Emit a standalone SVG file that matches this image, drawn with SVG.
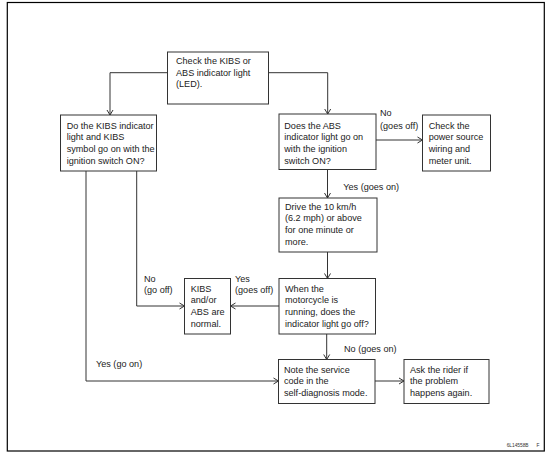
<svg xmlns="http://www.w3.org/2000/svg" width="555" height="456" viewBox="0 0 555 456">
<style>
.box{fill:#fff;stroke:#333;stroke-width:1}
.t{font-family:"Liberation Sans",Arial,sans-serif;font-size:9.1px;fill:#222}
.c{fill:none;stroke:#333;stroke-width:1}
.cap{font-family:"Liberation Sans",Arial,sans-serif;font-size:4.8px;fill:#333}
</style>
<defs>
<marker id="a" markerUnits="userSpaceOnUse" markerWidth="8" markerHeight="8" viewBox="-6 -4 8 8" refX="0" refY="0" orient="auto">
<path d="M-5,-3 L0,0 L-5,3" fill="none" stroke="#333" stroke-width="1"/>
</marker>
</defs>
<rect x="0" y="0" width="555" height="456" fill="#fff"/>
<rect x="7.3" y="2.5" width="537" height="448.5" fill="none" stroke="#000" stroke-width="1.2"/>
<g id="connectors">
<path class="c" d="M167.5,72.7 H110 V115" marker-end="url(#a)"/>
<path class="c" d="M268.5,72.7 H327.7 V114" marker-end="url(#a)"/>
<path class="c" d="M376,140 H422.5" marker-end="url(#a)"/>
<path class="c" d="M327.5,169.5 V198" marker-end="url(#a)"/>
<path class="c" d="M327.5,252 V278.5" marker-end="url(#a)"/>
<path class="c" d="M279,306 H230.5" marker-end="url(#a)"/>
<path class="c" d="M136.7,171 V306 H184.5" marker-end="url(#a)"/>
<path class="c" d="M326.7,334 V359.5" marker-end="url(#a)"/>
<path class="c" d="M86,171 V381 H278.5" marker-end="url(#a)"/>
<path class="c" d="M375,381 H404" marker-end="url(#a)"/>
</g>
<g id="n-start">
<rect class="box" x="167.5" y="52" width="101" height="52"/>
<text class="t" x="176" y="64">Check the KIBS or</text>
<text class="t" x="176" y="75.7">ABS indicator light</text>
<text class="t" x="176" y="87.4">(LED).</text>
</g>
<g id="n-kibs-q">
<rect class="box" x="60.5" y="115" width="96" height="56"/>
<text class="t" x="66.7" y="128.5">Do the KIBS indicator</text>
<text class="t" x="66.7" y="140.2">light and KIBS</text>
<text class="t" x="66.7" y="151.9">symbol go on with the</text>
<text class="t" x="66.7" y="163.6">ignition switch ON?</text>
</g>
<g id="n-abs-q">
<rect class="box" x="279" y="114" width="97" height="55.5"/>
<text class="t" x="284.3" y="128.5">Does the ABS</text>
<text class="t" x="284.3" y="140.2">indicator light go on</text>
<text class="t" x="284.3" y="151.9">with the ignition</text>
<text class="t" x="284.3" y="163.6">switch ON?</text>
</g>
<g id="n-power">
<rect class="box" x="422.5" y="115" width="68" height="56"/>
<text class="t" x="428.7" y="128.5">Check the</text>
<text class="t" x="428.7" y="140.2">power source</text>
<text class="t" x="428.7" y="151.9">wiring and</text>
<text class="t" x="428.7" y="163.6">meter unit.</text>
</g>
<g id="n-drive">
<rect class="box" x="279" y="198" width="98" height="54"/>
<text class="t" x="285" y="209.5">Drive the 10 km/h</text>
<text class="t" x="285" y="221.2">(6.2 mph) or above</text>
<text class="t" x="285" y="232.9">for one minute or</text>
<text class="t" x="285" y="244.6">more.</text>
</g>
<g id="n-when">
<rect class="box" x="279" y="278.5" width="96.5" height="55.5"/>
<text class="t" x="285" y="291.8">When the</text>
<text class="t" x="285" y="303.4">motorcycle is</text>
<text class="t" x="285" y="315">running, does the</text>
<text class="t" x="285" y="326.6">indicator light go off?</text>
</g>
<g id="n-normal">
<rect class="box" x="184.5" y="278.5" width="46" height="55.5"/>
<text class="t" x="190.7" y="291.8">KIBS</text>
<text class="t" x="190.7" y="303.4">and/or</text>
<text class="t" x="190.7" y="315">ABS are</text>
<text class="t" x="190.7" y="326.6">normal.</text>
</g>
<g id="n-note">
<rect class="box" x="278.5" y="359.5" width="96.5" height="44"/>
<text class="t" x="284" y="372.8">Note the service</text>
<text class="t" x="284" y="384.3">code in the</text>
<text class="t" x="284" y="395.8">self-diagnosis mode.</text>
</g>
<g id="n-ask">
<rect class="box" x="404" y="359.5" width="85" height="44"/>
<text class="t" x="410" y="372.8">Ask the rider if</text>
<text class="t" x="410" y="384.3">the problem</text>
<text class="t" x="410" y="395.8">happens again.</text>
</g>
<g id="labels">
<text class="t" x="380" y="116.2">No</text>
<text class="t" x="380" y="128.5">(goes off)</text>
<text class="t" x="343.3" y="190.2">Yes (goes on)</text>
<text class="t" x="144" y="282.2">No</text>
<text class="t" x="144" y="293">(go off)</text>
<text class="t" x="235" y="282.2">Yes</text>
<text class="t" x="235" y="293">(goes off)</text>
<text class="t" x="344" y="351.8">No (goes on)</text>
<text class="t" x="96" y="366.8">Yes (go on)</text>
<text class="cap" x="506.7" y="446.5">6L14558B</text>
<text class="cap" x="536.5" y="446.5">F</text>
</g>
</svg>
